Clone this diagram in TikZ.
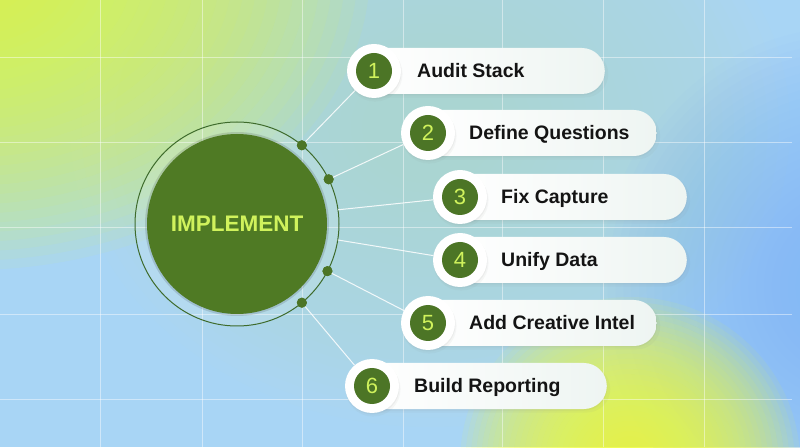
\documentclass[tikz,border=0pt]{standalone}
\usepackage{fontspec}
\setmainfont{Liberation Sans}
\usetikzlibrary{shapes.misc,shadows,calc}
\definecolor{bgblue}{HTML}{A8D5F5}
\definecolor{bgteal}{HTML}{BDE5D2}
\definecolor{bgyellow}{HTML}{E6FF3A}
\definecolor{bgyellow2}{HTML}{EEFC42}
\definecolor{bgright}{HTML}{84BAF6}
\definecolor{coregreen}{HTML}{4F7A24}
\definecolor{ringgreen}{HTML}{3E6B2C}
\definecolor{numgreen}{HTML}{4C7526}
\definecolor{lime}{HTML}{D0F25C}
\definecolor{pillend}{HTML}{EEF5F2}
\definecolor{txtdark}{HTML}{141414}
\newcommand\bgglow[6]{% color, x, y, rx, ry, opacity per step
  \foreach \k in {1,...,32}{\fill[#1,opacity=#6] (#2,#3) ellipse ({#4*\k/32} and {#5*\k/32});}}
\begin{document}
\begin{tikzpicture}[x=1pt,y=1pt,
  gridline/.style={white,opacity=0.45,line width=0.9pt},
  ringnode/.style={circle,draw=ringgreen,line width=1pt,minimum size=204pt,inner sep=0pt,fill=white,fill opacity=0.12},
  core/.style={circle,fill=coregreen,minimum size=180pt,inner sep=0pt,text=lime,
    font=\fontsize{22.5}{23}\selectfont\bfseries},
  coreshadow/.style={circle,fill=black,opacity=0.12,minimum size=184pt,inner sep=0pt},
  dotnode/.style={circle,fill=numgreen,minimum size=10pt,inner sep=0pt},
  conn/.style={white,opacity=0.85,line width=1pt},
  softshadow/.style={drop shadow={opacity=0.06,shadow xshift=1pt,shadow yshift=-3pt,shadow scale=1.02},
    drop shadow={opacity=0.08,shadow xshift=0.5pt,shadow yshift=-1.5pt}},
  pill/.style={rounded rectangle,minimum height=46pt,inner sep=0pt,left color=white,right color=pillend,softshadow},
  numspot/.style={circle,minimum size=54pt,inner sep=0pt},
  numout/.style={circle,fill=white,minimum size=54pt,inner sep=0pt,softshadow},
  numin/.style={circle,fill=numgreen,minimum size=36pt,inner sep=0pt,text=lime,
    font=\fontsize{22}{22}\selectfont},
  lbl/.style={text=txtdark,font=\fontsize{19.5}{20}\selectfont\bfseries,inner sep=0pt}
]
\useasboundingbox (0,0) rectangle (800,447);

% background
\begin{scope}
\clip (0,0) rectangle (800,447);
\fill[bgblue] (0,0) rectangle (800,447);
\bgglow{bgteal}{430}{320}{360}{300}{0.05}
\bgglow{bgright}{850}{160}{250}{260}{0.05}
\bgglow{bgyellow}{-30}{477}{400}{300}{0.06}
\bgglow{bgyellow2}{630}{-15}{170}{165}{0.08}
\end{scope}
\foreach \gx in {100,202,302,403,502,603,704}
  \draw[gridline] (\gx,0) -- (\gx,447);
\foreach \gy in {390,305,220,133,48}
  \draw[gridline] (0,\gy) -- (792,\gy);

% central circle
\coordinate (c) at (237,223);
\node[ringnode] (ring) at (c) {};
\node[coreshadow] (cs) at (c) {};
\node[core] (core) at (c) {IMPLEMENT};

% ring dots and connector starts
\node[dotnode] (d1) at ($(c)+(50.5:102)$) {};
\node[dotnode] (d2) at ($(c)+(26:102)$) {};
\coordinate (d3) at ($(c)+(8:102)$);
\coordinate (d4) at ($(c)+(-9:102)$);
\node[dotnode] (d5) at ($(c)+(-27.5:102)$) {};
\node[dotnode] (d6) at ($(c)+(-50.5:102)$) {};

% number spots (placed first so connectors can end on them)
\node[numspot] (n1) at (374,376) {};
\node[numspot] (n2) at (428,314) {};
\node[numspot] (n3) at (460,250) {};
\node[numspot] (n4) at (460,187) {};
\node[numspot] (n5) at (428,124) {};
\node[numspot] (n6) at (372,61) {};

% connectors
\draw[conn] (d1.center) -- (n1);
\draw[conn] (d2.center) -- (n2);
\draw[conn] (d3) -- (n3);
\draw[conn] (d4) -- (n4);
\draw[conn] (d5.center) -- (n5);
\draw[conn] (d6.center) -- (n6);
\node[dotnode] at (d1) {};
\node[dotnode] at (d2) {};
\node[dotnode] at (d5) {};
\node[dotnode] at (d6) {};

% pills
\node[pill,minimum width=241pt,anchor=east] (p1) at (605,376) {};
\node[pill,minimum width=239pt,anchor=east] (p2) at (657,314) {};
\node[pill,minimum width=237pt,anchor=east] (p3) at (687,250) {};
\node[pill,minimum width=237pt,anchor=east] (p4) at (687,187) {};
\node[pill,minimum width=239pt,anchor=east] (p5) at (657,124) {};
\node[pill,minimum width=245pt,anchor=east] (p6) at (607,61) {};

% number circles
\foreach \i in {1,...,6}{
  \node[numout] (w\i) at (n\i) {};
  \node[numin] (g\i) at (n\i) {\i};
}

% labels
\node[lbl,anchor=base west] (t1) at (417,369.5) {Audit Stack};
\node[lbl,anchor=base west] (t2) at (469,307.5) {Define Questions};
\node[lbl,anchor=base west] (t3) at (501,243.5) {Fix Capture};
\node[lbl,anchor=base west] (t4) at (501,180.5) {Unify Data};
\node[lbl,anchor=base west] (t5) at (469,117.5) {Add Creative Intel};
\node[lbl,anchor=base west] (t6) at (414,54.5) {Build Reporting};
\end{tikzpicture}
\end{document}
